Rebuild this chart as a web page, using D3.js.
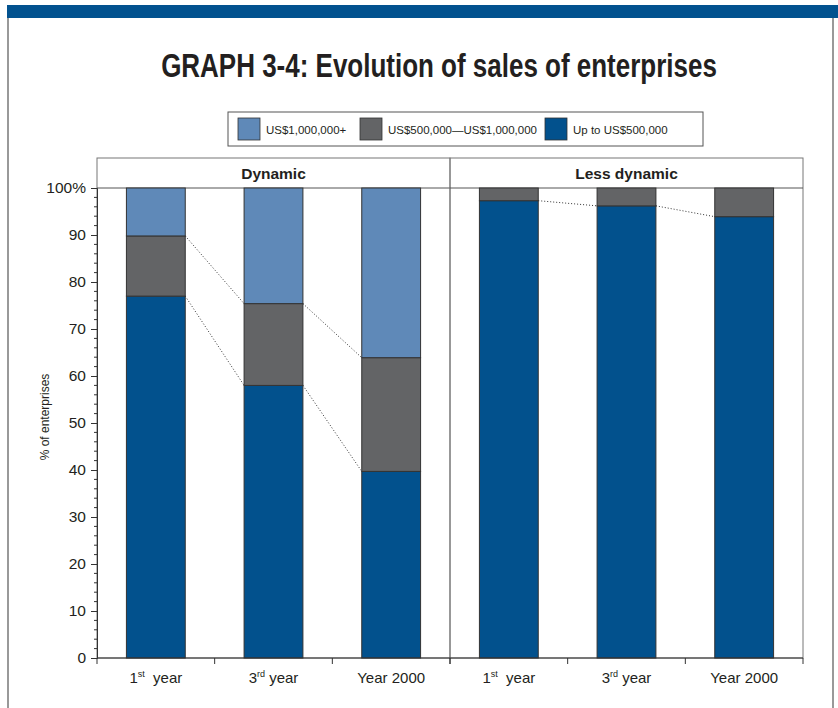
<!DOCTYPE html>
<html>
<head>
<meta charset="utf-8">
<script src="https://cdn.jsdelivr.net/npm/d3@7"></script>
<style>
  body { margin: 0; background: #fff; }
  svg { display: block; }
</style>
</head>
<body>
<div id="chart"></div>
<script>
// categories and series (% of enterprises)
const panels = ["Dynamic", "Less dynamic"];
const categories = ["1st year", "3rd year", "Year 2000"];
const seriesNames = ["US$1,000,000+", "US$500,000\u2014US$1,000,000", "Up to US$500,000"];
const seriesColors = ["#5f89b8", "#636466", "#02518d"];

const dynamicUpTo500k = [77.0, 58.0, 39.7];
const dynamicMid = [12.8, 17.4, 24.2];
const dynamicOver1m = [10.2, 24.6, 36.1];

const lessUpTo500k = [97.3, 96.2, 93.9];
const lessMid = [2.7, 3.8, 6.1];
const lessOver1m = [0, 0, 0];

const yTicks = [0, 10, 20, 30, 40, 50, 60, 70, 80, 90, 100];

const width = 838;
const height = 708;
const margin = { top: 188, right: 35, bottom: 50, left: 97 };
const headerH = 30;

const panelData = {
  "Dynamic": [dynamicUpTo500k, dynamicMid, dynamicOver1m],
  "Less dynamic": [lessUpTo500k, lessMid, lessOver1m]
};

const svg = d3.select("#chart")
  .append("svg")
  .attr("width", width)
  .attr("height", height);

// frame + top banner
svg.append("rect")
  .attr("x", 7).attr("y", 5)
  .attr("width", width - 7).attr("height", 13)
  .attr("fill", "#02528f");
svg.append("line")
  .attr("x1", 8).attr("x2", 8).attr("y1", 18).attr("y2", height)
  .attr("stroke", "#777").attr("stroke-width", 1.5);
svg.append("line")
  .attr("x1", 833).attr("x2", 833).attr("y1", 18).attr("y2", height)
  .attr("stroke", "#777").attr("stroke-width", 1.5);

// title, squeezed horizontally to look condensed
const title = svg.append("text")
  .attr("text-anchor", "middle")
  .style("font-family", "'Liberation Sans', Arial, sans-serif")
  .style("font-weight", "bold")
  .style("font-size", "33px")
  .style("fill", "#231f20")
  .text("GRAPH 3-4: Evolution of sales of enterprises");
const tw = title.node().getComputedTextLength();
title.attr("transform", `translate(439,77) scale(${556 / tw},1)`);

// legend
const legend = svg.append("g").attr("transform", "translate(228,112)");
legend.append("rect")
  .attr("width", 475).attr("height", 34)
  .attr("fill", "none").attr("stroke", "#555");
const legendX = [10, 132, 317];
seriesNames.forEach((name, i) => {
  const g = legend.append("g").attr("transform", `translate(${legendX[i]},6)`);
  g.append("rect")
    .attr("width", 22).attr("height", 22)
    .attr("fill", seriesColors[i]).attr("stroke", "#333").attr("stroke-width", 0.8);
  g.append("text")
    .attr("x", 28).attr("y", 15.5)
    .style("font-family", "'Liberation Sans', Arial, sans-serif")
    .style("font-size", "11.5px")
    .style("fill", "#231f20")
    .text(name);
});

// scales
const xPanel = d3.scaleBand()
  .domain(panels)
  .range([margin.left, width - margin.right]);

const xCat = d3.scaleBand()
  .domain(categories)
  .range([0, xPanel.bandwidth()])
  .paddingInner(0.5)
  .paddingOuter(0.25);

const y = d3.scaleLinear()
  .domain([0, 100])
  .range([height - margin.bottom, margin.top]);

// panel frames and headers
panels.forEach(p => {
  const x0 = xPanel(p);
  svg.append("rect")
    .attr("x", x0).attr("y", y(100) - headerH)
    .attr("width", xPanel.bandwidth()).attr("height", y(0) - y(100) + headerH)
    .attr("fill", "none").attr("stroke", "#777");
  svg.append("line")
    .attr("x1", x0).attr("x2", x0 + xPanel.bandwidth())
    .attr("y1", y(100)).attr("y2", y(100))
    .attr("stroke", "#555");
  svg.append("text")
    .attr("x", x0 + xPanel.bandwidth() / 2)
    .attr("y", y(100) - 9)
    .attr("text-anchor", "middle")
    .style("font-family", "'Liberation Sans', Arial, sans-serif")
    .style("font-weight", "bold")
    .style("font-size", "15.5px")
    .style("fill", "#231f20")
    .text(p);
});

// bars
panels.forEach(p => {
  const vals = panelData[p];
  const g = svg.append("g").attr("transform", `translate(${xPanel(p)},0)`);
  const stacked = categories.map((c, i) => {
    let acc = 0;
    return vals.map((arr, s) => {
      const seg = { cat: c, s: s, y0: acc, y1: acc + arr[i] };
      acc += arr[i];
      return seg;
    });
  });

  // dotted connectors between segment tops
  [0, 1].forEach(s => {
    for (let i = 0; i < categories.length - 1; i++) {
      const a = stacked[i][s].y1, b = stacked[i + 1][s].y1;
      if (a >= 99.9 && b >= 99.9) continue;
      g.append("line")
        .attr("x1", xCat(categories[i]) + xCat.bandwidth())
        .attr("y1", y(a))
        .attr("x2", xCat(categories[i + 1]))
        .attr("y2", y(b))
        .attr("stroke", "#333")
        .attr("stroke-width", 1)
        .attr("stroke-dasharray", "1,2");
    }
  });

  g.selectAll("rect.seg")
    .data(stacked.flat().filter(d => d.y1 - d.y0 > 0))
    .join("rect")
    .attr("class", "seg")
    .attr("x", d => xCat(d.cat))
    .attr("y", d => y(d.y1))
    .attr("width", xCat.bandwidth())
    .attr("height", d => y(d.y0) - y(d.y1))
    .attr("fill", d => seriesColors[2 - d.s])
    .attr("stroke", "#333")
    .attr("stroke-width", 1);

  // bottom axis: ticks at category boundaries, labels centered
  const step = xCat.step();
  const bx = g.append("g").attr("transform", `translate(0,${y(0)})`);
  bx.append("line")
    .attr("x1", 0).attr("x2", xPanel.bandwidth())
    .attr("stroke", "#333");
  bx.selectAll("line.tk")
    .data(d3.range(categories.length + 1))
    .join("line")
    .attr("class", "tk")
    .attr("x1", i => i * step).attr("x2", i => i * step)
    .attr("y1", 0).attr("y2", 6)
    .attr("stroke", "#333");
  const lbl = bx.selectAll("text")
    .data(categories)
    .join("text")
    .attr("x", d => xCat(d) + xCat.bandwidth() / 2)
    .attr("y", 25)
    .attr("text-anchor", "middle")
    .style("font-family", "'Liberation Sans', Arial, sans-serif")
    .style("font-size", "15px")
    .style("fill", "#231f20");
  lbl.each(function(d) {
    const t = d3.select(this);
    const m = d.match(/^(\d)(st|rd)\s(.*)$/);
    if (m) {
      t.append("tspan").text(m[1]);
      t.append("tspan").attr("dy", -6).style("font-size", "9px").text(m[2]);
      t.append("tspan").attr("dy", 6).text((m[2] === "st" ? "\u00a0 " : " ") + m[3]);
    } else {
      t.text(d);
    }
  });
});

// y axis
const yAxis = svg.append("g")
  .attr("transform", `translate(${margin.left},0)`)
  .call(d3.axisLeft(y)
    .tickValues(yTicks)
    .tickSize(6)
    .tickFormat(d => d === 100 ? "100%" : d));
yAxis.select(".domain").attr("stroke", "#333");
yAxis.selectAll(".tick line").attr("stroke", "#333");
yAxis.selectAll("text")
  .attr("x", -11)
  .style("font-family", "'Liberation Sans', Arial, sans-serif")
  .style("font-size", "15.5px")
  .style("fill", "#231f20");

svg.append("g")
  .attr("transform", `translate(${margin.left},0)`)
  .selectAll("line")
  .data(d3.range(0, 101, 2).filter(v => v % 10 !== 0))
  .join("line")
  .attr("x1", -3).attr("x2", 0)
  .attr("y1", d => y(d)).attr("y2", d => y(d))
  .attr("stroke", "#333");

svg.append("text")
  .attr("transform", `translate(49,${(y(0) + y(100)) / 2 - 6}) rotate(-90)`)
  .attr("text-anchor", "middle")
  .style("font-family", "'Liberation Sans', Arial, sans-serif")
  .style("font-size", "12px")
  .style("fill", "#231f20")
  .text("% of enterprises");
</script>
</body>
</html>
